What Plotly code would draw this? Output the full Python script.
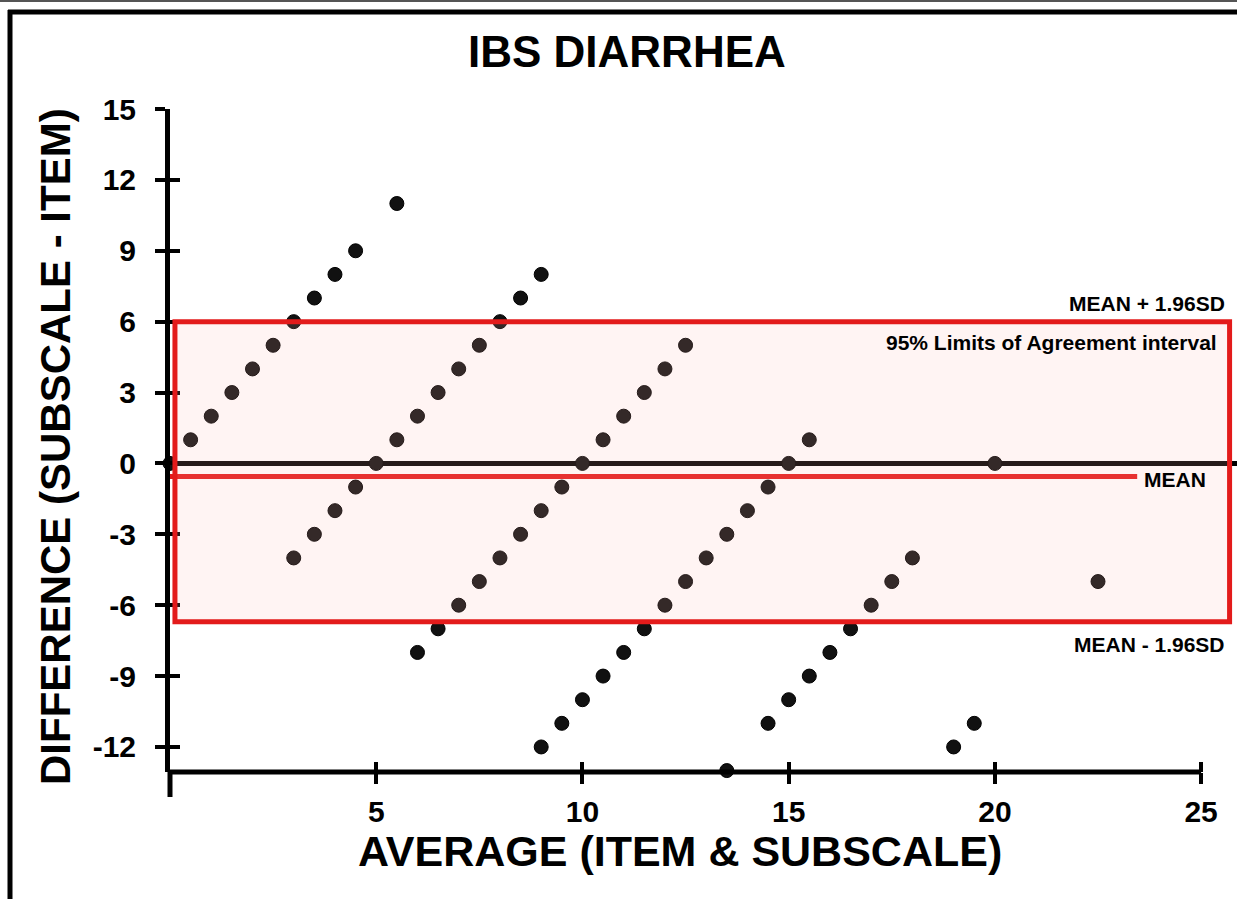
import plotly.graph_objects as go

# ---------------- data ----------------
average = [0, 0.5, 1, 1.5, 2, 2.5, 3, 3.5, 4, 4.5, 5.5,
           3, 3.5, 4, 4.5, 5, 5.5, 6, 6.5, 7, 7.5, 8, 8.5, 9,
           6, 6.5, 7, 7.5, 8, 8.5, 9, 9.5, 10, 10.5, 11, 11.5, 12, 12.5,
           9, 9.5, 10, 10.5, 11, 11.5, 12, 12.5, 13, 13.5, 14, 14.5, 15, 15.5,
           13.5, 14.5, 15, 15.5, 16, 16.5, 17, 17.5, 18,
           19, 19.5, 20, 22.5]
difference = [0, 1, 2, 3, 4, 5, 6, 7, 8, 9, 11,
              -4, -3, -2, -1, 0, 1, 2, 3, 4, 5, 6, 7, 8,
              -8, -7, -6, -5, -4, -3, -2, -1, 0, 1, 2, 3, 4, 5,
              -12, -11, -10, -9, -8, -7, -6, -5, -4, -3, -2, -1, 0, 1,
              -13, -11, -10, -9, -8, -7, -6, -5, -4,
              -12, -11, 0, -5]

mean_diff = -0.55
upper_loa = 6.0
lower_loa = -6.7

x_tickvals = [5, 10, 15, 20, 25]
x_ticktext = ["5", "10", "15", "20", "25"]
y_tickvals = [-12, -9, -6, -3, 0, 3, 6, 9, 12, 15]
y_ticktext = ["-12", "-9", "-6", "-3", "0", "3", "6", "9", "12", "15"]

title_text = "IBS DIARRHEA"
x_title = "AVERAGE (ITEM & SUBSCALE)"
y_title = "DIFFERENCE (SUBSCALE - ITEM)"

# ---------------- layout geometry ----------------
W_FIG, H_FIG = 1237, 899
L, R, T, B = 170, 0, 109, 127
PW, PH = W_FIG - L - R, H_FIG - T - B
X_RANGE = [0, 25.87]
Y_RANGE = [-13.06, 15]

FONT = "Liberation Sans, Arial, Helvetica, sans-serif"
RED = "#e31b1b"


def pxx(p):
    return (p - L) / PW


def pxy(p):
    return 1 - (p - T) / PH


def dx(v):
    return (v - X_RANGE[0]) / (X_RANGE[1] - X_RANGE[0])


fig = go.Figure()

fig.add_trace(go.Scatter(
    x=average, y=difference, mode="markers",
    marker=dict(size=14, color="#111111", line=dict(color="#000000", width=1)),
    cliponaxis=False, showlegend=False, hoverinfo="x+y"))

# empty trace to anchor overlay axes (inside ticks)
fig.add_trace(go.Scatter(x=[], y=[], xaxis="x2", yaxis="y2", showlegend=False,
                         hoverinfo="skip"))

shapes = []
# zero line
shapes.append(dict(type="line", xref="x", yref="y", x0=X_RANGE[0], x1=X_RANGE[1],
                   y0=0, y1=0, line=dict(color="black", width=5), layer="below"))
# mean line
shapes.append(dict(type="line", xref="x", yref="y", x0=0, x1=23.45,
                   y0=mean_diff, y1=mean_diff, line=dict(color=RED, width=5),
                   layer="above"))
# limits of agreement box
shapes.append(dict(type="rect", xref="x", yref="y", x0=0.12, x1=25.69,
                   y0=lower_loa, y1=upper_loa,
                   fillcolor="rgba(255,182,175,0.15)",
                   line=dict(color=RED, width=5), layer="above"))
# x axis line (0 -> 25)
shapes.append(dict(type="line", xref="paper", yref="paper", x0=dx(0), x1=dx(25),
                   y0=0, y1=0, line=dict(color="black", width=5), layer="above"))
# y axis extension below x axis
shapes.append(dict(type="line", xref="paper", yref="paper", x0=0, x1=0,
                   y0=pxy(797), y1=0, line=dict(color="black", width=5), layer="above"))
# outer frame
shapes.append(dict(type="line", xref="paper", yref="paper", x0=pxx(0), x1=pxx(1237),
                   y0=pxy(1), y1=pxy(1), line=dict(color="#555555", width=2)))
shapes.append(dict(type="line", xref="paper", yref="paper", x0=pxx(8), x1=pxx(1237),
                   y0=pxy(12), y1=pxy(12), line=dict(color="black", width=5)))
shapes.append(dict(type="line", xref="paper", yref="paper", x0=pxx(10), x1=pxx(10),
                   y0=pxy(10), y1=pxy(899), line=dict(color="black", width=5)))

bold = dict(family=FONT, color="black", weight=700)

annotations = [
    dict(text=title_text, xref="paper", yref="paper", x=pxx(627), y=pxy(51),
         xanchor="center", yanchor="middle", showarrow=False,
         font=dict(size=44, **bold)),
    dict(text=x_title, xref="paper", yref="paper", x=pxx(680), y=pxy(851),
         xanchor="center", yanchor="middle", showarrow=False,
         font=dict(size=43, **bold)),
    dict(text=y_title, xref="paper", yref="paper", x=pxx(55), y=pxy(447),
         xanchor="center", yanchor="middle", showarrow=False, textangle=-90,
         font=dict(size=42, **bold)),
    dict(text="MEAN + 1.96SD", xref="paper", yref="paper", x=pxx(1227), y=pxy(303),
         xanchor="right", yanchor="middle", showarrow=False,
         font=dict(size=21, **bold)),
    dict(text="95% Limits of Agreement interval", xref="paper", yref="paper",
         x=pxx(1219), y=pxy(342), xanchor="right", yanchor="middle", showarrow=False,
         font=dict(size=21, **bold)),
    dict(text="MEAN", xref="paper", yref="paper", x=pxx(1142), y=pxy(479),
         xanchor="left", yanchor="middle", showarrow=False,
         font=dict(size=21, **bold)),
    dict(text="MEAN - 1.96SD", xref="paper", yref="paper", x=pxx(1227), y=pxy(644),
         xanchor="right", yanchor="middle", showarrow=False,
         font=dict(size=21, **bold)),
]

fig.update_layout(
    width=W_FIG, height=H_FIG,
    margin=dict(l=L, r=R, t=T, b=B, pad=0),
    paper_bgcolor="white", plot_bgcolor="white",
    showlegend=False,
    shapes=shapes, annotations=annotations,
    xaxis=dict(range=X_RANGE, tickvals=x_tickvals, ticktext=x_ticktext,
               ticks="outside", ticklen=11, tickwidth=4, tickcolor="black",
               showline=False, showgrid=False, zeroline=False,
               ticklabelstandoff=2,
               tickfont=dict(size=30, **bold), fixedrange=True),
    yaxis=dict(range=Y_RANGE, tickvals=y_tickvals, ticktext=y_ticktext,
               ticks="outside", ticklen=10, tickwidth=4, tickcolor="black",
               showline=True, linewidth=5, linecolor="black",
               showgrid=False, zeroline=False, ticklabelstandoff=13,
               tickfont=dict(size=30, **bold), fixedrange=True),
    xaxis2=dict(range=X_RANGE, overlaying="x", anchor="y2", side="bottom",
                tickvals=x_tickvals, ticks="inside", ticklen=10, tickwidth=4,
                tickcolor="black", showticklabels=False, showline=False,
                showgrid=False, zeroline=False, fixedrange=True),
    yaxis2=dict(range=Y_RANGE, overlaying="y", anchor="x2", side="left",
                tickvals=y_tickvals, ticks="inside", ticklen=10, tickwidth=4,
                tickcolor="black", showticklabels=False, showline=False,
                showgrid=False, zeroline=False, fixedrange=True),
)

fig.write_html("out.html", config=dict(displayModeBar=False),
               post_script="document.body.style.margin='0px';")
